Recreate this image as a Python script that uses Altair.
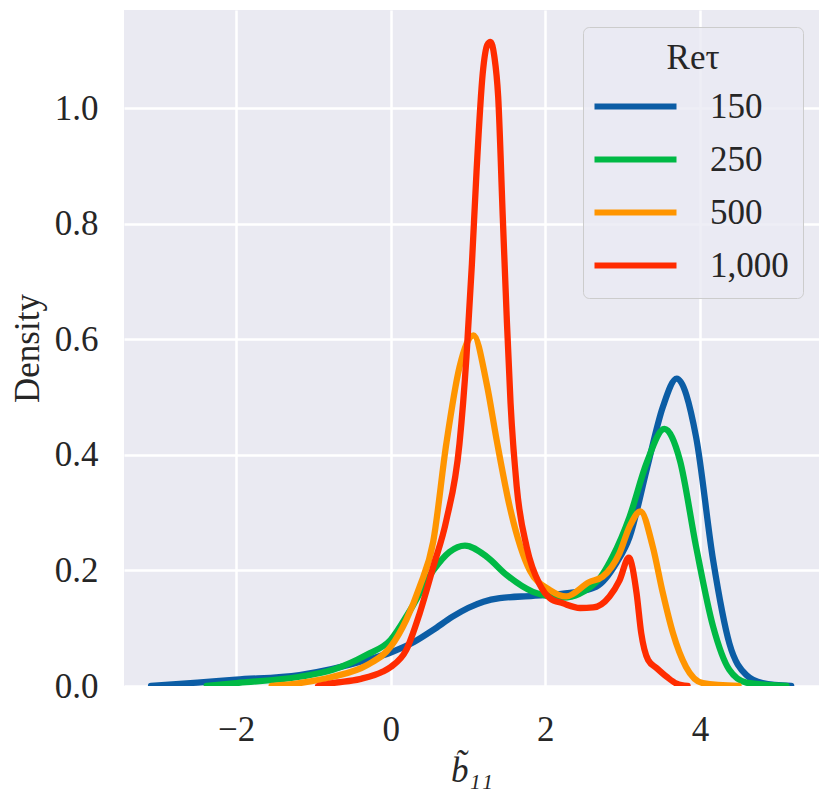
import altair as alt
import pandas as pd

series_names = ["150", "250", "500", "1,000"]
colors = ["#0C5DA5", "#00B945", "#FF9500", "#FF2C00"]

x_150 = [-3.1, -2.5, -2.0, -1.18, -0.31, 0.0, 0.3, 0.55, 0.8, 1.0, 1.2, 1.41, 1.84, 2.32, 2.66, 2.92, 3.09, 3.31, 3.52, 3.70, 3.95, 4.17, 4.38, 4.60, 4.81, 5.18]
y_150 = [0.0, 0.006, 0.011, 0.019, 0.045, 0.058, 0.076, 0.097, 0.120, 0.135, 0.146, 0.152, 0.156, 0.161, 0.172, 0.213, 0.258, 0.374, 0.483, 0.532, 0.431, 0.218, 0.074, 0.019, 0.005, 0.0]

x_250 = [-2.38, -2.0, -1.18, -0.75, -0.31, 0.0, 0.25, 0.55, 0.76, 0.96, 1.24, 1.50, 1.84, 2.23, 2.66, 2.87, 3.09, 3.31, 3.54, 3.74, 3.95, 4.17, 4.38, 4.60, 5.12]
y_250 = [0.0, 0.005, 0.016, 0.028, 0.054, 0.080, 0.131, 0.200, 0.232, 0.243, 0.224, 0.192, 0.163, 0.153, 0.180, 0.224, 0.293, 0.386, 0.445, 0.391, 0.241, 0.103, 0.028, 0.006, 0.0]

x_500 = [-1.54, -1.18, -0.75, -0.31, 0.0, 0.2, 0.375, 0.55, 0.72, 0.89, 1.07, 1.24, 1.37, 1.54, 1.80, 2.06, 2.27, 2.57, 2.74, 2.96, 3.09, 3.23, 3.39, 3.52, 3.65, 3.82, 4.04, 4.5]
y_500 = [0.0, 0.005, 0.016, 0.036, 0.068, 0.114, 0.172, 0.250, 0.420, 0.552, 0.607, 0.524, 0.426, 0.310, 0.200, 0.166, 0.155, 0.180, 0.189, 0.230, 0.276, 0.302, 0.241, 0.161, 0.092, 0.033, 0.005, 0.0]

x_1000 = [-0.94, -0.75, -0.4, -0.1, 0.0, 0.2, 0.375, 0.55, 0.72, 0.89, 0.98, 1.05, 1.11, 1.19, 1.25, 1.29, 1.34, 1.39, 1.45, 1.50, 1.55, 1.63, 1.76, 1.93, 2.06, 2.23, 2.45, 2.62, 2.83, 2.96, 3.08, 3.18, 3.24, 3.33, 3.44, 3.57, 3.70, 3.84]
y_1000 = [0.0, 0.005, 0.012, 0.025, 0.033, 0.062, 0.126, 0.206, 0.287, 0.420, 0.570, 0.730, 0.890, 1.060, 1.110, 1.115, 1.090, 1.020, 0.810, 0.640, 0.490, 0.345, 0.240, 0.175, 0.152, 0.143, 0.135, 0.136, 0.155, 0.183, 0.222, 0.161, 0.092, 0.045, 0.031, 0.016, 0.004, 0.0]

xs = [x_150, x_250, x_500, x_1000]
ys = [y_150, y_250, y_500, y_1000]

rows = []
for gi, (name, xv, yv) in enumerate(zip(series_names, xs, ys)):
    for i, (a, b) in enumerate(zip(xv, yv)):
        rows.append({"Re": name, "g": gi, "i": i, "x": a, "y": b})
df = pd.DataFrame(rows)

FONT = "Liberation Serif"

chart = alt.Chart(df).mark_line(
    strokeWidth=6.3, interpolate="monotone", clip=True, strokeCap="round", strokeJoin="round"
).encode(
    x=alt.X("x:Q", scale=alt.Scale(domain=[-3.45, 5.54], nice=False, zero=False),
            axis=alt.Axis(values=[-2, 0, 2, 4], format="d", title="b̃₁₁", titleFontStyle="italic")),
    y=alt.Y("y:Q", scale=alt.Scale(domain=[0, 1.17], nice=False),
            axis=alt.Axis(values=[0, 0.2, 0.4, 0.6, 0.8, 1.0], format=".1f", title="Density")),
    color=alt.Color("Re:N", scale=alt.Scale(domain=series_names, range=colors),
                    legend=alt.Legend(title="Reτ", orient="none", legendX=459, legendY=17,
                                      symbolType="M-1.39,0H1.39", symbolSize=3481, symbolStrokeWidth=6,
                                      symbolFillColor="transparent", symbolOffset=6,
                                      labelFontSize=35, titleFontSize=35, labelFont=FONT, titleFont=FONT,
                                      titleFontWeight="normal", titleAnchor="middle", titleColor="#262626",
                                      labelColor="#262626", labelOffset=42, rowPadding=2,
                                      titlePadding=-2,
                                      padding=14, fillColor="rgba(234,234,242,0.8)", strokeColor="#CCCCCC",
                                      cornerRadius=6)),
    order=alt.Order("i:Q"),
    detail="g:N",
).properties(
    width=695, height=676,
    autosize=alt.AutoSizeParams(type="none"),
    padding={"left": 116, "top": 2, "right": 3, "bottom": 110},
).configure_view(
    fill="#EAEAF2", stroke=None
).configure_axis(
    grid=True, gridColor="white", gridWidth=2.5, domain=False, ticks=False,
    labelFont=FONT, titleFont=FONT, labelFontSize=35, titleFontSize=35,
    labelColor="#262626", titleColor="#262626", titleFontWeight="normal",
).configure_axisX(
    labelPadding=26, titlePadding=6
).configure_axisY(
    labelPadding=26, titlePadding=9
)

chart.save("out.html", embed_options={"renderer": "svg", "actions": False})
